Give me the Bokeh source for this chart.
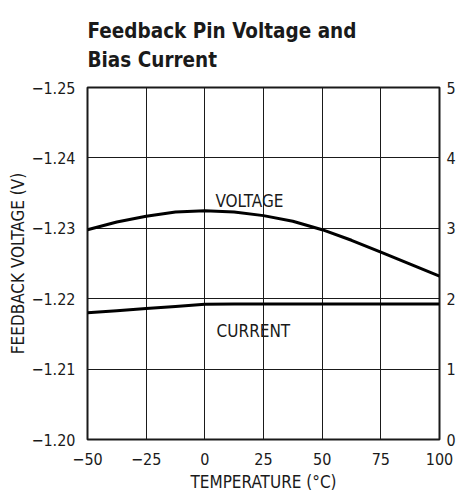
from bokeh.plotting import figure
from bokeh.models import (Range1d, LinearAxis, FixedTicker, CustomJSTickFormatter,
                          ColumnDataSource, Title)
from bokeh.core.properties import value
from bokeh.embed import file_html
from bokeh.resources import INLINE

# ---- data ----
temperature = [-50, -37.5, -25, -12.5, 0, 12.5, 25, 37.5, 50, 62.5, 75, 87.5, 100]
voltage = [-1.2298, -1.2309, -1.2317, -1.2323, -1.2325, -1.2323, -1.2318,
           -1.2310, -1.2298, -1.2283, -1.2266, -1.2249, -1.2232]
current = [1.80, 1.83, 1.86, 1.89, 1.92, 1.925, 1.925, 1.925, 1.925, 1.925,
           1.925, 1.925, 1.925]

x_ticks = [-50, -25, 0, 25, 50, 75, 100]
y_ticks = [-1.25, -1.24, -1.23, -1.22, -1.21, -1.20]
y2_ticks = [0, 1, 2, 3, 4, 5]

title_lines = ["Feedback Pin Voltage and", "Bias Current"]
x_label = "TEMPERATURE (°C)"
y_label = "FEEDBACK VOLTAGE (V)"
curve_labels = ["VOLTAGE", "CURRENT"]
curve_label_x = [19, 20.7]
curve_label_y = [-1.2339, -1.2154]

FONT = "DejaVu Sans Condensed"
INK = "#1a1a1a"

p = figure(frame_width=352, frame_height=352, output_backend="svg", toolbar_location=None,
           x_range=Range1d(-50, 100), y_range=Range1d(-1.20, -1.25),
           min_border_left=87, min_border_right=17, min_border_top=87,
           min_border_bottom=59, background_fill_color="white",
           border_fill_color="white")
p.extra_y_ranges = {"cur": Range1d(0, 5)}

p.add_layout(Title(text="\n".join(title_lines), align="left", text_font=FONT,
                   text_font_size="20.5px", text_font_style="bold",
                   text_color=INK, text_line_height=1.215, standoff=31), "above")

p.outline_line_color = INK
p.outline_line_width = 2

def style_axis(ax):
    ax.axis_line_color = None
    ax.major_tick_line_color = None
    ax.minor_tick_line_color = None
    ax.major_tick_out = 0
    ax.major_tick_in = 0
    ax.minor_tick_out = 0
    ax.minor_tick_in = 0
    ax.major_label_text_font = FONT
    ax.major_label_text_font_size = "16px"
    ax.major_label_text_color = INK
    ax.axis_label_text_font = FONT
    ax.axis_label_text_font_size = "17px"
    ax.axis_label_text_font_style = "normal"
    ax.axis_label_text_color = INK

xa = p.xaxis[0]
style_axis(xa)
xa.ticker = FixedTicker(ticks=x_ticks)
xa.formatter = CustomJSTickFormatter(code="return tick < 0 ? '\\u2212' + Math.abs(tick) : String(tick);")
xa.major_label_standoff = 13
xa.axis_label = x_label
xa.axis_label_standoff = 4

ya = p.yaxis[0]
style_axis(ya)
ya.ticker = FixedTicker(ticks=y_ticks)
ya.formatter = CustomJSTickFormatter(code="return '\\u2212' + Math.abs(tick).toFixed(2);")
ya.major_label_standoff = 12
ya.major_label_text_baseline = "top"
ya.axis_label = y_label
ya.axis_label_standoff = 0

ra = LinearAxis(y_range_name="cur", ticker=FixedTicker(ticks=y2_ticks))
style_axis(ra)
ra.major_label_standoff = 7
ra.major_label_text_baseline = "top"
p.add_layout(ra, "right")

p.xgrid.ticker = FixedTicker(ticks=x_ticks)
p.ygrid.ticker = FixedTicker(ticks=y_ticks)
for g in (p.xgrid[0], p.ygrid[0]):
    g.grid_line_color = INK
    g.grid_line_width = 1
    g.grid_line_alpha = 1.0

src = ColumnDataSource(dict(t=temperature, v=voltage, c=current))
p.line("t", "v", source=src, line_color="black", line_width=3)
p.line("t", "c", source=src, line_color="black", line_width=3, y_range_name="cur")

lab = ColumnDataSource(dict(x=curve_label_x, y=curve_label_y, s=curve_labels))
p.text("x", "y", text="s", source=lab, text_font=value(FONT), text_font_size="17px",
       text_align="center", text_baseline="alphabetic", text_color=INK)

open("out.html", "w").write(file_html(p, INLINE))
